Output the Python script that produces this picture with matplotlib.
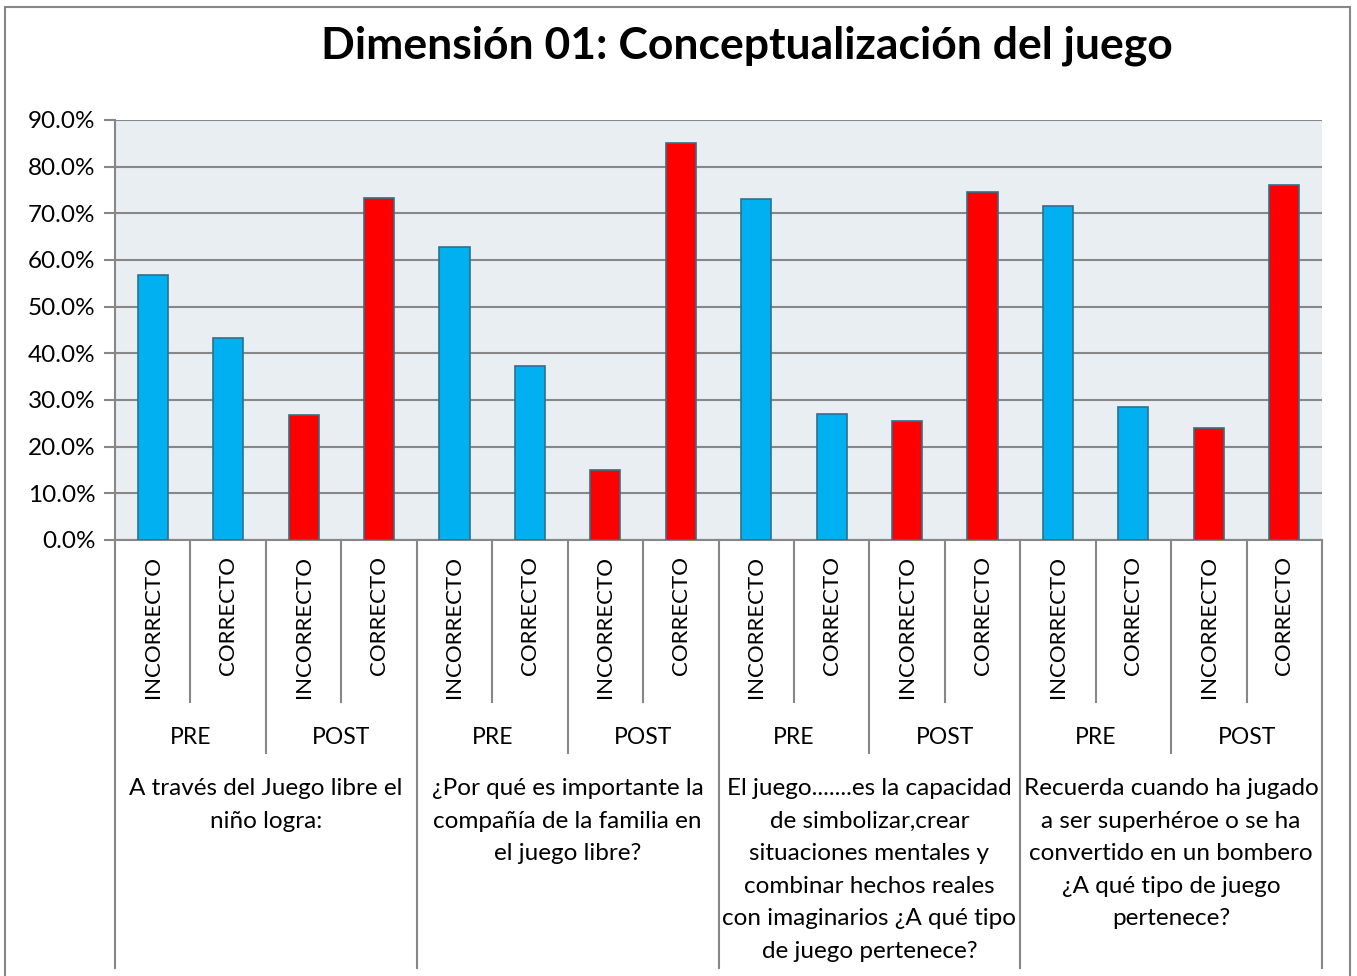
import matplotlib.pyplot as plt
import matplotlib.patches as mpatches
from matplotlib.lines import Line2D
from matplotlib.transforms import blended_transform_factory
from matplotlib.ticker import FuncFormatter, MultipleLocator
import numpy as np

plt.rcParams['font.family'] = ['Lato', 'DejaVu Sans']

# Data (percent)
preguntas = [
    "A través del Juego libre el\nniño logra:",
    "¿Por qué es importante la\ncompañía de la familia en\nel juego libre?",
    "El juego.......es la capacidad\nde simbolizar,crear\nsituaciones mentales y\ncombinar hechos reales\ncon imaginarios ¿A qué tipo\nde juego pertenece?",
    "Recuerda cuando ha jugado\na ser superhéroe o se ha\nconvertido en un bombero\n¿A qué tipo de juego\npertenece?",
]
momentos = ["PRE", "POST"]
respuestas = ["INCORRECTO", "CORRECTO"]
valores = [56.7, 43.3, 26.7, 73.3,
           62.8, 37.2, 14.9, 85.1,
           73.1, 26.9, 25.4, 74.6,
           71.6, 28.4, 23.9, 76.1]

W, H = 1357, 976
fig = plt.figure(figsize=(W / 100, H / 100), dpi=100)

def fy(py):
    return 1 - py / H

ax = fig.add_axes([115 / W, fy(540), (1322 - 115) / W, (540 - 120) / H])
ax.set_facecolor('#E8EEF2')

x = np.arange(len(valores))
colores = ['#00B0F0' if (i // 2) % 2 == 0 else '#FF0000' for i in range(len(valores))]
ax.bar(x, valores, width=0.4, color=colores, edgecolor='#2F7189', linewidth=1.2, zorder=3)

ax.set_xlim(-0.5, len(valores) - 0.5)
ax.set_ylim(0, 90)
ax.yaxis.set_major_locator(MultipleLocator(10))
ax.yaxis.set_major_formatter(FuncFormatter(lambda v, p: f"{v:.1f}%"))
ax.grid(axis='y', color='#878787', linewidth=1.5, zorder=0)
ax.set_xticks([])
ax.tick_params(axis='y', length=8, width=1.5, color='#878787', labelsize=17.5, pad=6)
for s in ['top', 'right']:
    ax.spines[s].set_visible(False)
ax.spines['left'].set_color('#878787')
ax.spines['left'].set_linewidth(1.5)
ax.spines['bottom'].set_color('#878787')
ax.spines['bottom'].set_linewidth(1.5)

tr = blended_transform_factory(ax.transData, fig.transFigure)

# separators of the multi-level category axis
for i in range(len(valores) + 1):
    if i % 4 == 0:
        bottom = 968
    elif i % 2 == 0:
        bottom = 753
    else:
        bottom = 702
    ax.add_line(Line2D([i - 0.5, i - 0.5], [fy(540), fy(bottom)], transform=tr,
                       color='#878787', linewidth=1.5, clip_on=False))

# level 1: answer labels
for i in range(len(valores)):
    ax.text(i, fy(556), respuestas[i % 2], transform=tr, rotation=90,
            ha='center', va='top', fontsize=16)

# level 2: PRE / POST
for j in range(len(valores) // 2):
    ax.text(2 * j + 0.5, fy(737), momentos[j % 2], transform=tr,
            ha='center', va='center', fontsize=16.5)

# level 3: questions
for k, q in enumerate(preguntas):
    ax.text(4 * k + 1.5, fy(778), q, transform=tr, ha='center', va='top',
            fontsize=17.5, linespacing=1.68)

fig.text(747 / W, fy(46), "Dimensión 01: Conceptualización del juego",
         ha='center', va='center', fontsize=32, fontweight='bold')

fig.patches.append(mpatches.Rectangle((5 / W, -0.05), (1350 - 5) / W, fy(7) + 0.05,
                                      transform=fig.transFigure, fill=False,
                                      edgecolor='#878787', linewidth=1.5))

fig.savefig('out.png', dpi=100)
